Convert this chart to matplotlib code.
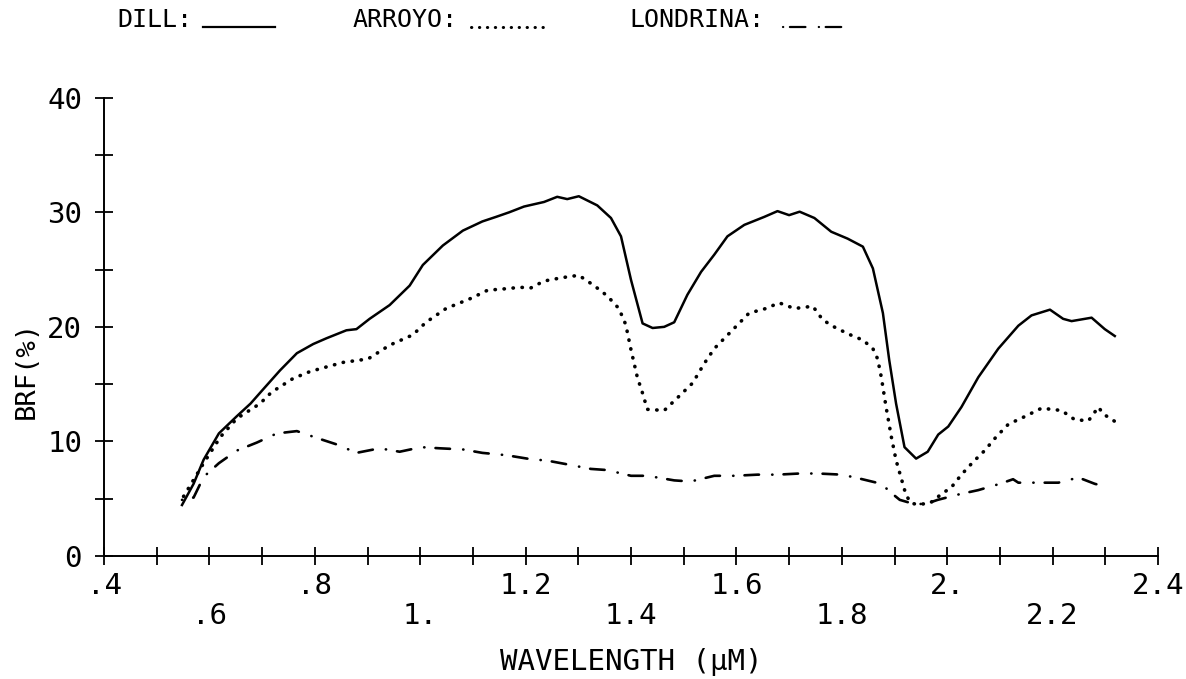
import matplotlib
matplotlib.use("Agg")
import matplotlib.pyplot as plt
from matplotlib.lines import Line2D
import numpy as np

# ---------------- data ----------------
dill_x = [0.548, 0.570, 0.589, 0.618, 0.652, 0.678, 0.703, 0.734, 0.766, 0.797, 0.822, 0.860, 0.879,
          0.904, 0.942, 0.980, 1.005, 1.043, 1.081, 1.118, 1.144, 1.169, 1.197, 1.235, 1.260, 1.279,
          1.301, 1.336, 1.362, 1.381, 1.400, 1.422, 1.441, 1.463, 1.482, 1.507, 1.533, 1.558, 1.583,
          1.615, 1.653, 1.678, 1.700, 1.720, 1.748, 1.780, 1.811, 1.840, 1.859, 1.878, 1.890, 1.903,
          1.919, 1.941, 1.963, 1.983, 2.002, 2.027, 2.059, 2.097, 2.135, 2.160, 2.195, 2.220, 2.236,
          2.274, 2.299, 2.318]
dill_y = [4.45, 6.3, 8.4, 10.7, 12.2, 13.3, 14.6, 16.2, 17.7, 18.5, 19.0, 19.7, 19.8,
          20.7, 21.9, 23.6, 25.4, 27.1, 28.4, 29.2, 29.6, 30.0, 30.5, 30.9, 31.35, 31.15,
          31.4, 30.6, 29.5, 27.9, 24.1, 20.3, 19.9, 20.0, 20.4, 22.8, 24.8, 26.3, 27.9,
          28.9, 29.6, 30.1, 29.75, 30.05, 29.5, 28.3, 27.7, 27.0, 25.1, 21.2, 17.1, 13.3,
          9.5, 8.5, 9.1, 10.6, 11.3, 13.0, 15.6, 18.1, 20.1, 21.0, 21.5, 20.7, 20.5,
          20.8, 19.8, 19.2]

arroyo_x = [0.551, 0.589, 0.621, 0.652, 0.696, 0.718, 0.759, 0.791, 0.822, 0.854, 0.901, 0.942, 0.986,
            1.011, 1.049, 1.097, 1.128, 1.156, 1.190, 1.210, 1.235, 1.270, 1.301, 1.330, 1.355, 1.377,
            1.390, 1.400, 1.412, 1.422, 1.431, 1.463, 1.488, 1.517, 1.539, 1.558, 1.590, 1.624, 1.656,
            1.681, 1.710, 1.745, 1.764, 1.789, 1.821, 1.840, 1.859, 1.868, 1.875, 1.884, 1.894, 1.903,
            1.913, 1.922, 1.932, 1.944, 1.967, 1.989, 2.008, 2.027, 2.049, 2.071, 2.093, 2.116, 2.144,
            2.179, 2.217, 2.242, 2.268, 2.287, 2.296, 2.323]
arroyo_y = [5.2, 8.1, 10.4, 12.0, 13.3, 14.3, 15.5, 16.1, 16.5, 16.9, 17.2, 18.4, 19.3,
            20.4, 21.6, 22.5, 23.2, 23.3, 23.45, 23.4, 24.0, 24.3, 24.5, 23.6, 22.7, 21.6,
            20.2, 18.0, 15.6, 14.2, 12.8, 12.7, 13.8, 15.1, 16.8, 18.1, 19.6, 21.2, 21.6,
            22.1, 21.6, 21.8, 20.6, 19.9, 19.2, 18.85, 18.1, 17.2, 15.6, 13.0, 10.4, 8.35,
            6.75, 5.3, 4.6, 4.5, 4.6, 5.4, 6.0, 7.1, 8.2, 9.2, 10.4, 11.5, 12.1,
            12.9, 12.7, 11.9, 11.8, 13.0, 12.4, 11.6]

londrina_x = [0.548, 0.570, 0.589, 0.618, 0.652, 0.690, 0.728, 0.766, 0.804, 0.844, 0.879, 0.923, 0.961,
              1.002, 1.037, 1.081, 1.118, 1.163, 1.203, 1.244, 1.279, 1.324, 1.355, 1.400, 1.431, 1.482,
              1.513, 1.558, 1.596, 1.640, 1.678, 1.720, 1.755, 1.800, 1.830, 1.875, 1.894, 1.910, 1.940,
              1.963, 1.982, 2.024, 2.059, 2.100, 2.125, 2.135, 2.173, 2.211, 2.249, 2.280, 2.293]
londrina_y = [4.9, 5.1, 6.9, 8.1, 9.2, 9.9, 10.7, 10.9, 10.3, 9.7, 9.0, 9.4, 9.1,
              9.5, 9.4, 9.3, 9.0, 8.8, 8.5, 8.3, 8.0, 7.6, 7.5, 7.0, 7.0, 6.6,
              6.5, 7.0, 7.0, 7.1, 7.1, 7.2, 7.2, 7.1, 6.8, 6.3, 5.5, 4.9, 4.5,
              4.6, 4.9, 5.4, 5.75, 6.3, 6.7, 6.4, 6.4, 6.4, 6.85, 6.3, 6.15]

x_ticks = [0.4, 0.5, 0.6, 0.7, 0.8, 0.9, 1.0, 1.1, 1.2, 1.3, 1.4, 1.5, 1.6, 1.7, 1.8, 1.9,
           2.0, 2.1, 2.2, 2.3, 2.4]
x_labels = [".4", "", ".6", "", ".8", "", "1.", "", "1.2", "", "1.4", "", "1.6", "", "1.8", "",
            "2.", "", "2.2", "", "2.4"]
y_ticks = [0, 5, 10, 15, 20, 25, 30, 35, 40]
y_labels = ["0", "", "10", "", "20", "", "30", "", "40"]

# ---------------- figure ----------------
W, H = 1186, 679
fig = plt.figure(figsize=(W / 100, H / 100), dpi=100)
fig.patch.set_facecolor("white")
FONT = "DejaVu Sans Mono"

ax = fig.add_axes([104 / W, 1 - 556 / H, (1158 - 104) / W, (556 - 97.7) / H])
ax.set_xlim(0.4, 2.4)
ax.set_ylim(0, 40)
for s in ("top", "right"):
    ax.spines[s].set_visible(False)
for s in ("left", "bottom"):
    ax.spines[s].set_linewidth(1.4)
    ax.spines[s].set_color("black")

ax.plot(dill_x, dill_y, color="black", lw=1.8, solid_joinstyle="round")
ax.plot(arroyo_x, arroyo_y, color="black", lw=2.6, linestyle=(0, (0.1, 2.4)),
        dash_capstyle="round")
ax.plot(londrina_x, londrina_y, color="black", lw=1.9, linestyle=(0, (0.1, 4.2, 5.5, 5.0)),
        dash_capstyle="round")

ax.set_xticks(x_ticks)
ax.set_xticklabels(x_labels, fontfamily=FONT, fontsize=21)
ax.set_yticks(y_ticks)
ax.set_yticklabels(y_labels, fontfamily=FONT, fontsize=21)
ax.tick_params(axis="both", direction="inout", length=13.5, width=1.3, colors="black")
ax.tick_params(axis="y", pad=9)
for i, t in enumerate(ax.xaxis.get_major_ticks()):
    t.set_pad(4.7 if (i // 2) % 2 == 0 else 26.4)

ax.set_xlabel("WAVELENGTH (μM)", fontfamily=FONT, fontsize=21, va="center")
ax.xaxis.set_label_coords(0.5, (556 - 662) / (556 - 97.7))
ax.set_ylabel("BRF(%)", fontfamily=FONT, fontsize=19.5, va="center")
ax.yaxis.set_label_coords((27 - 104) / (1158 - 104), (556 - 370) / (556 - 97.7))

# ---------------- header legend ----------------
base = 1 - 27 / H
hdr = dict(fontfamily=FONT, fontsize=18, va="baseline", ha="center")
fig.text(155 / W, base, "DILL:", **hdr)
fig.text(405 / W, base, "ARROYO:", **hdr)
fig.text(697 / W, base, "LONDRINA:", **hdr)
fig.add_artist(Line2D([203 / W, 275 / W], [base, base], transform=fig.transFigure,
                      color="black", lw=1.6))
fig.add_artist(Line2D([471 / W, 543 / W], [base, base], transform=fig.transFigure,
                      color="black", lw=2.2, linestyle=(0, (0.1, 2.5)), dash_capstyle="round"))
fig.add_artist(Line2D([783 / W, 846 / W], [base, base], transform=fig.transFigure,
                      color="black", lw=1.6, linestyle=(0, (0.1, 3.0, 7.0, 6.0)),
                      dash_capstyle="round"))

fig.savefig("out.png", dpi=100, facecolor="white")
